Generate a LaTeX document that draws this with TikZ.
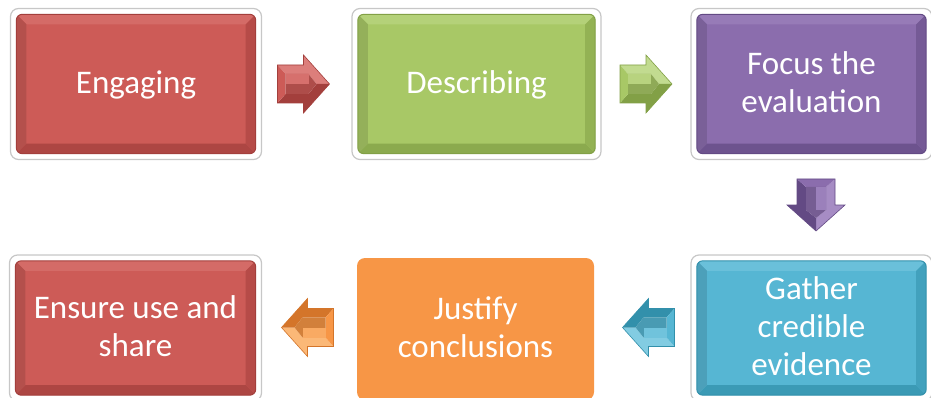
\documentclass[tikz,border=0pt]{standalone}
\usepackage{fontspec}
\setmainfont{Carlito}
\usetikzlibrary{calc}
\newcommand\ls{\rule[-9.5pt]{0pt}{38pt}}
\definecolor{rd}{HTML}{CD5B57}\definecolor{rdDk}{HTML}{A33F3C}\definecolor{rdLt}{HTML}{DC7E7B}
\definecolor{gr}{HTML}{A8C866}\definecolor{grDk}{HTML}{82A046}\definecolor{grLt}{HTML}{C2DB90}
\definecolor{pu}{HTML}{8B6DAD}\definecolor{puDk}{HTML}{634A84}\definecolor{puLt}{HTML}{A68CC4}
\definecolor{cy}{HTML}{56B6D3}\definecolor{cyDk}{HTML}{3290AB}\definecolor{cyLt}{HTML}{82CCE2}
\definecolor{org}{HTML}{F79646}\definecolor{orgDk}{HTML}{D4752A}\definecolor{orgLt}{HTML}{FBB877}
\tikzset{
  frm/.style={draw=black!22, fill=white, rounded corners=8pt, line width=1.2pt},
  boxst/.style={rectangle, rounded corners=6pt, fill=#1, text=white, align=center,
    font=\fontsize{33}{38}\selectfont, inner sep=0pt},
  flatbox/.style={rectangle, rounded corners=8pt, fill=#1, text=white, align=center,
    font=\fontsize{33}{38}\selectfont, inner sep=0pt},
}
% name, cx, cy, w, h, colour, text
\newcommand\bevbox[7]{%
  \path[frm] ({#2-#4/2-6},{#3-#5/2-6}) rectangle ({#2+#4/2+6},{#3+#5/2+6});
  \node[boxst=#6, minimum width=#4, minimum height=#5] (#1) at (#2,#3) {#7};
  \begin{scope}
    \clip[rounded corners=6pt] (#1.north west) rectangle (#1.south east);
    \fill[#6Lt!45!#6] (#1.north west) -- (#1.north east) -- ($(#1.north east)+(-10,10)$) -- ($(#1.north west)+(10,10)$) -- cycle;
    \fill[#6Dk!75!#6] (#1.south west) -- (#1.south east) -- ($(#1.south east)+(-10,-10)$) -- ($(#1.south west)+(10,-10)$) -- cycle;
    \fill[#6!88!black] (#1.north west) -- ($(#1.north west)+(10,10)$) -- ($(#1.south west)+(10,-10)$) -- (#1.south west) -- cycle;
    \fill[#6Dk!55!#6] (#1.north east) -- ($(#1.north east)+(-10,10)$) -- ($(#1.south east)+(-10,-10)$) -- (#1.south east) -- cycle;
  \end{scope}
  \draw[#6Dk, line width=1pt, rounded corners=6pt] (#1.north west) rectangle (#1.south east);
}
% name, cx, cy, rotation, colour
\newcommand\barrow[5]{%
  \begin{scope}[shift={(#2,#3)}, rotate=#4]
    \coordinate (#1) at (0,0);
    \fill[#5Lt] (-26,-19) -- (0,-19) -- (0,-29) -- (26,0) -- (13,0) -- (5,-10) -- (-18,-10) -- cycle;
    \fill[#5Dk] (-26,19) -- (0,19) -- (0,29) -- (26,0) -- (13,0) -- (5,10) -- (-18,10) -- cycle;
    \fill[#5] (-26,-19) -- (-18,-10) -- (-18,10) -- (-26,19) -- cycle;
    \fill[#5!85!black] (-18,-10) -- (5,-10) -- (13,0) -- (5,10) -- (-18,10) -- cycle;
    \fill[#5Lt!60!#5] (-18,-10) -- (5,-10) -- (5,0) -- (-18,0) -- cycle;
    \draw[#5Dk, line width=0.6pt, line join=miter] (-26,-19) -- (0,-19) -- (0,-29) -- (26,0) -- (0,29) -- (0,19) -- (-26,19) -- cycle;
  \end{scope}
}
\begin{document}
\begin{tikzpicture}[x=1pt, y=-1pt]
  \useasboundingbox (0,0) rectangle (931,398);
  \bevbox{eng}{136}{84}{239}{139}{rd}{\ls Engaging}
  \bevbox{des}{476.5}{84}{237}{139}{gr}{\ls Describing}
  \bevbox{foc}{811.5}{84}{229}{139}{pu}{\ls Focus the\\\ls evaluation}
  \bevbox{gat}{811.5}{328}{229}{134}{cy}{\ls Gather\\\ls credible\\\ls evidence}
  \node[flatbox=org, minimum width=237, minimum height=142] (jus) at (475.5,329) {\ls Justify\\\ls conclusions};
  \bevbox{ens}{135.5}{328}{240}{134}{rd}{\ls Ensure use and\\\ls share}
  \barrow{a1}{303.5}{84}{0}{rd}
  \barrow{a2}{646}{84}{0}{gr}
  \barrow{a3}{816}{205}{-90}{pu}
  \barrow{a4}{648.5}{327.5}{180}{cy}
  \barrow{a5}{307.5}{327.5}{180}{org}
\end{tikzpicture}
\end{document}
